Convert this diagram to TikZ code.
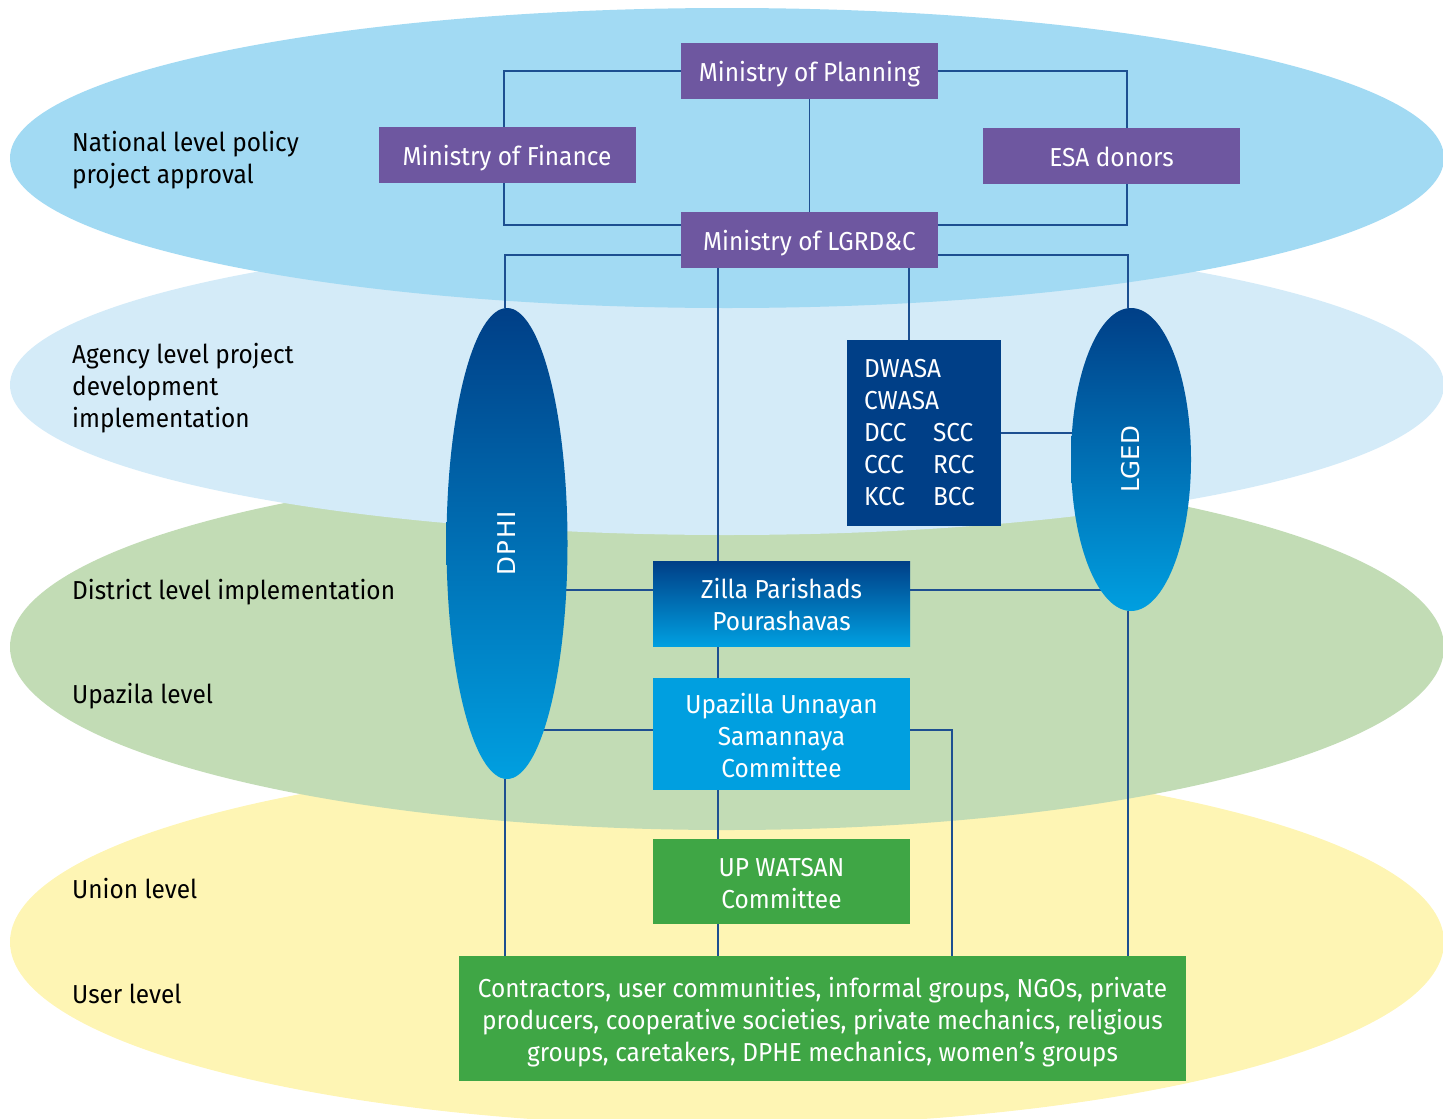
\documentclass[tikz,border=0pt]{standalone}
\usepackage{fontspec}
\setmainfont{Fira Sans}[FakeStretch=0.94]
\newfontfamily\dejavu{DejaVu Sans}
\newfontfamily\dejavuwide{DejaVu Sans}[LetterSpace=6]
\usetikzlibrary{shapes.geometric,calc}
\definecolor{natblue}{HTML}{A2DAF3}
\definecolor{agblue}{HTML}{D4EBF8}
\definecolor{distgreen}{HTML}{C2DCB5}
\definecolor{useryellow}{HTML}{FEF5B4}
\definecolor{purp}{HTML}{6E57A0}
\definecolor{navy}{HTML}{003F87}
\definecolor{cyanb}{HTML}{009FE0}
\definecolor{boxgreen}{HTML}{3FA645}
\definecolor{linecol}{HTML}{1D4F91}
\newcommand\ctext[2][-4.5pt]{\raisebox{#1}[\height][\depth]{\begin{tabular}{@{}c@{}}#2\end{tabular}}}
\newcommand\ltext[2][-4.5pt]{\raisebox{#1}[\height][\depth]{\begin{tabular}{@{}l@{}}#2\end{tabular}}}
\pgfdeclarelayer{back}
\pgfdeclarelayer{conn}
\pgfsetlayers{back,conn,main}
\tikzset{
  txt/.style={font=\fontsize{26}{32}\selectfont},
  lvl/.style={txt, anchor=west, text=black, inner sep=0pt},
  box/.style={txt, rectangle, inner sep=0pt, text=white},
  purpbox/.style={box, fill=purp, minimum width=257, minimum height=56},
  bluebox/.style={box, minimum width=257},
  greenbox/.style={box, fill=boxgreen},
  agency/.style={ellipse, inner sep=0pt, top color=navy, bottom color=cyanb, text=white},
  conn/.style={draw=linecol, line width=1.5pt},
}
\begin{document}
\begin{tikzpicture}[x=1pt,y=-1pt]
\useasboundingbox (0,0) rectangle (1443,1119);
% background level ellipses
\begin{pgfonlayer}{back}
\fill[useryellow] (727,942) ellipse [x radius=717, y radius=184];
\fill[distgreen] (727,647) ellipse [x radius=717, y radius=183];
\fill[agblue] (727,385) ellipse [x radius=717, y radius=150];
\fill[natblue] (727,158) ellipse [x radius=717, y radius=150];
\end{pgfonlayer}
% level labels
\node[lvl] (l1) at (72,157) {\ltext{National level policy\\project approval}};
\node[lvl] (l2) at (72,385) {\ltext{Agency level project\\development\\implementation}};
\node[lvl] (l3) at (72,589) {\ltext{District level implementation}};
\node[lvl] (l4) at (72,693) {\ltext{Upazila level}};
\node[lvl] (l5) at (72,888) {\ltext{Union level}};
\node[lvl] (l6) at (72,993) {\ltext{User level}};
% boxes
\node[purpbox] (plan) at (809.5,71) {\ctext{Ministry of Planning}};
\node[purpbox] (fin) at (507,155) {\ctext{Ministry of Finance}};
\node[purpbox] (esa) at (1111.5,156) {\ctext{ESA donors}};
\node[purpbox] (lgrd) at (809.5,240) {\ctext{Ministry of LGRD\&C}};
\node[box, fill=navy, minimum width=154, minimum height=186, text width=120, inner xsep=17]
  (dw) at (924,433) {\ltext[-1.6pt]{DWASA\\CWASA\\\makebox[69pt][l]{DCC}SCC\\\makebox[69pt][l]{CCC}RCC\\\makebox[69pt][l]{KCC}BCC}};
\node[bluebox, top color=navy, bottom color=cyanb, minimum height=85] (zil) at (781.5,603.5) {\ctext[-5pt]{Zilla Parishads\\Pourashavas}};
\node[bluebox, fill=cyanb, minimum height=112] (upz) at (781.5,734) {\ctext[-5.5pt]{Upazilla Unnayan\\Samannaya\\Committee}};
\node[greenbox, minimum width=257, minimum height=85] (upw) at (781.5,881.5) {\ctext{UP WATSAN\\Committee}};
\node[greenbox, minimum width=727, minimum height=125] (con) at (822.5,1018.5)
  {\ctext{Contractors, user communities, informal groups, NGOs, private\\producers, cooperative societies, private mechanics, religious\\groups, caretakers, DPHE mechanics, women’s groups}};
\node[agency, minimum width=121, minimum height=471] (dphi) at (507,543.5)
  {\rotatebox{90}{\dejavuwide\fontsize{24.5}{28}\selectfont DPHI}};
\node[agency, minimum width=120, minimum height=303] (lged) at (1131,459.5)
  {\rotatebox{90}{\dejavu\fontsize{24.5}{28}\selectfont LGED}};
\coordinate (spine) at (718,0);
\coordinate (dwx) at (909,0);
\coordinate (ux) at (952,0);
\coordinate (dpx) at ([xshift=-2pt]dphi.south);
\coordinate (lgx) at ([xshift=-3pt]lged.south);
% connectors
\begin{pgfonlayer}{conn}
\draw[conn] (plan.west) -| ([xshift=-3pt]fin.north);
\draw[conn] (plan.east) -| ([xshift=15.5pt]esa.north);
\draw[conn] (plan.south) -- (lgrd.north);
\draw[conn] ([xshift=-3pt]fin.south) |- ([yshift=15pt]lgrd.west);
\draw[conn] ([xshift=15.5pt]esa.south) |- ([yshift=15pt]lgrd.east);
\draw[conn] ([yshift=-15pt]lgrd.west) -| ([xshift=-2pt]dphi.north);
\draw[conn] ([yshift=-15pt]lgrd.east) -| ([xshift=-3pt]lged.north);
\draw[conn] (lgrd.south -| spine) -- (zil.north -| spine);
\draw[conn] (lgrd.south -| dwx) -- (dw.north -| dwx);
\draw[conn] (dw.east) -- (dw.east -| lged.center);
\draw[conn] ([yshift=13.5pt]zil.west) -- ([yshift=13.5pt]zil.west -| dphi.center);
\draw[conn] ([yshift=13.5pt]zil.east) -- ([yshift=13.5pt]zil.east -| lged.center);
\draw[conn] (zil.south -| spine) -- (upz.north -| spine);
\draw[conn] ([yshift=4pt]upz.west) -- ([yshift=4pt]upz.west -| dphi.center);
\draw[conn] ([yshift=4pt]upz.east) -| (con.north -| ux);
\draw[conn] (upz.south -| spine) -- (upw.north -| spine);
\draw[conn] (upw.south -| spine) -- (con.north -| spine);
\draw[conn] (dpx) -- (con.north -| dpx);
\draw[conn] (lgx) -- (con.north -| lgx);
\end{pgfonlayer}
\end{tikzpicture}
\end{document}
